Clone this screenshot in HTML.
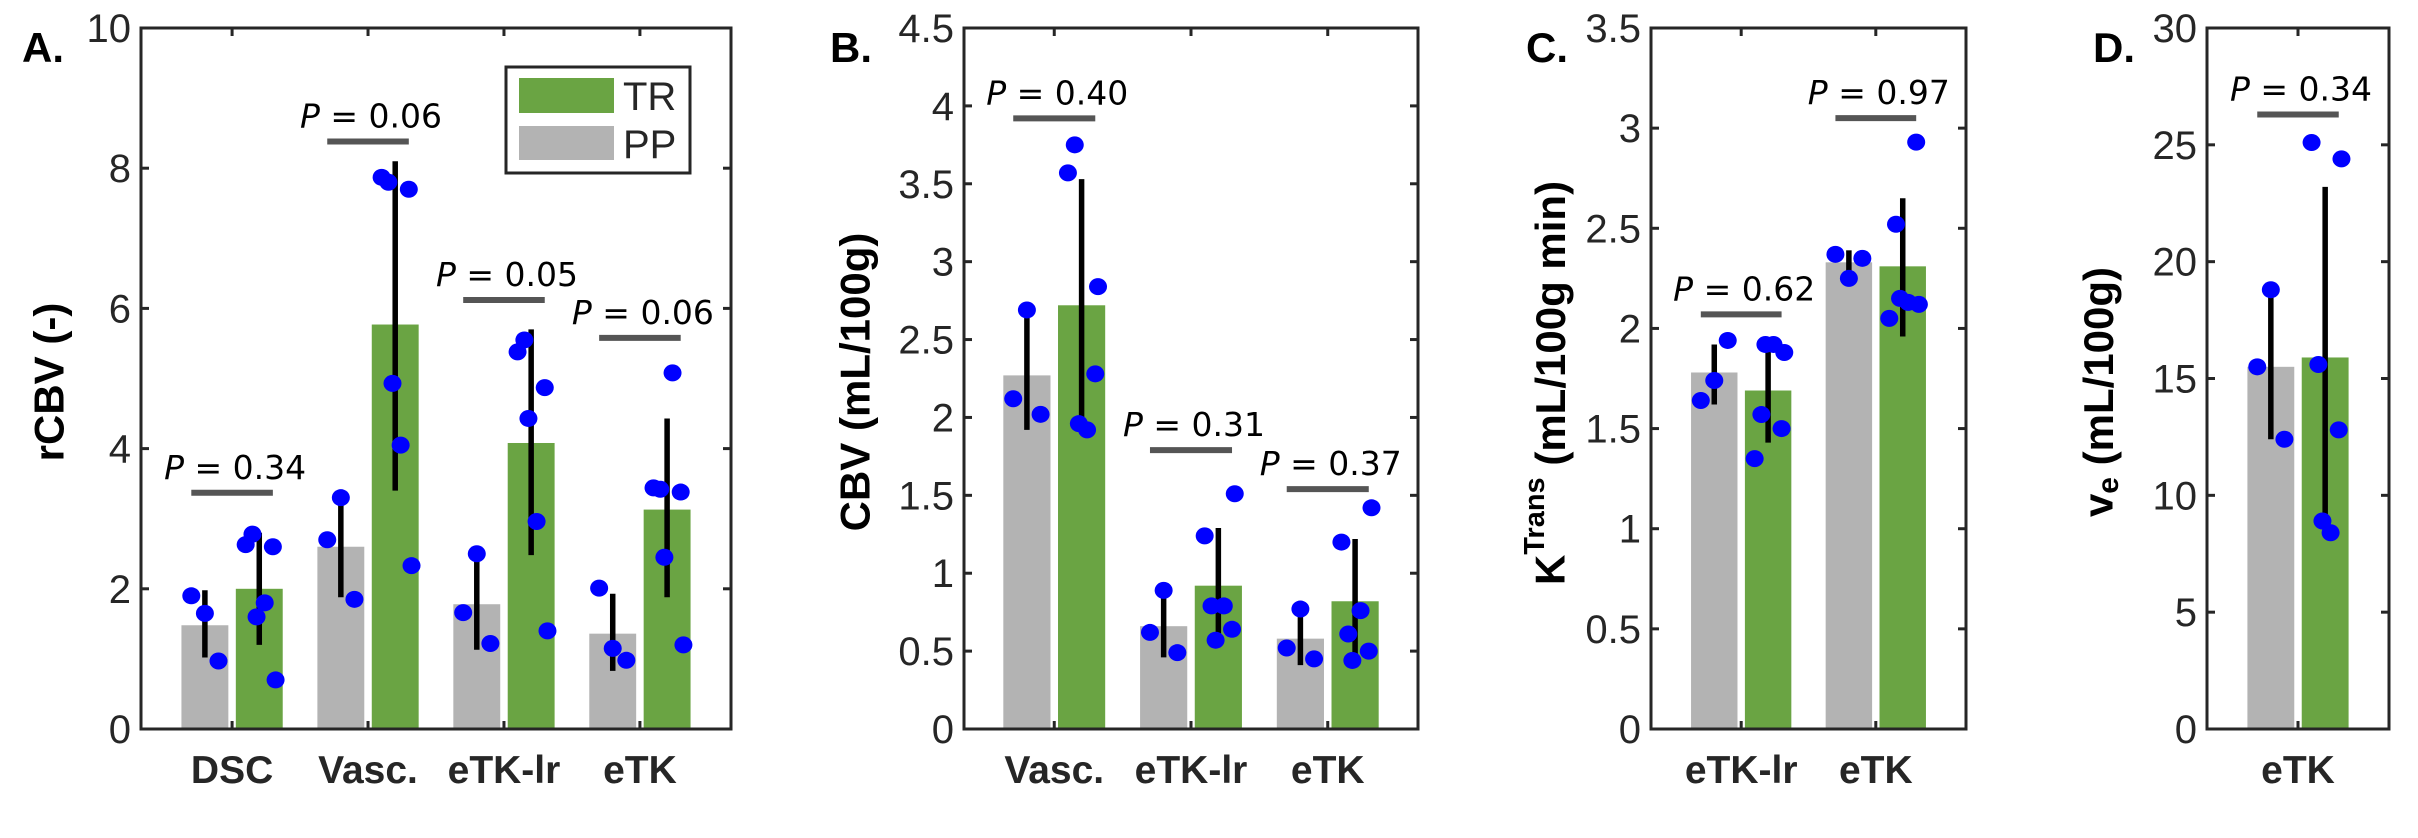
<!DOCTYPE html>
<html><head><meta charset="utf-8"><style>
html,body{margin:0;padding:0;background:#fff;}
svg{display:block;font-family:"Liberation Sans",Arial,sans-serif;}
</style></head><body>
<svg id="fig" width="2418" height="838" viewBox="0 0 2418 838" xmlns="http://www.w3.org/2000/svg"></svg>
<script>
// ---------- data ----------
const catsA = ["DSC","Vasc.","eTK-lr","eTK"];
const ppMeanA = [1.48,2.60,1.78,1.36];
const ppLoA = [1.02,1.88,1.13,0.83];
const ppHiA = [1.98,3.30,2.47,1.93];
const trMeanA = [2.00,5.77,4.08,3.13];
const trLoA = [1.20,3.40,2.48,1.88];
const trHiA = [2.80,8.10,5.70,4.43];
const ppDotsA = [[1.90,1.65,0.97],[2.70,3.30,1.85],[1.66,2.50,1.22],[2.01,1.15,0.98]];
const trDotsA = [[2.63,2.78,2.60,1.60,1.80,0.70],[7.87,7.80,7.70,4.93,4.05,2.33],[5.38,5.55,4.87,4.43,2.96,1.40],[3.44,3.42,3.38,2.45,5.08,1.20]];
const pLineA = [3.37,8.38,6.12,5.58];
const pTextA = ["0.34","0.06","0.05","0.06"];
const yTicksA = [0,2,4,6,8,10];

const catsB = ["Vasc.","eTK-lr","eTK"];
const ppMeanB = [2.27,0.66,0.58];
const ppLoB = [1.92,0.46,0.41];
const ppHiB = [2.64,0.88,0.75];
const trMeanB = [2.72,0.92,0.82];
const trLoB = [1.95,0.57,0.44];
const trHiB = [3.53,1.29,1.22];
const ppDotsB = [[2.12,2.69,2.02],[0.62,0.89,0.49],[0.52,0.77,0.45]];
const trDotsB = [[3.57,3.75,2.28,1.96,1.92,2.84],[1.24,0.79,0.64,0.57,0.79,1.51],[1.20,0.61,0.50,0.44,0.76,1.42]];
const pLineB = [3.92,1.79,1.54];
const pTextB = ["0.40","0.31","0.37"];
const yTicksB = [0,0.5,1,1.5,2,2.5,3,3.5,4,4.5];

const catsC = ["eTK-lr","eTK"];
const ppMeanC = [1.78,2.33];
const ppLoC = [1.62,2.24];
const ppHiC = [1.92,2.39];
const trMeanC = [1.69,2.31];
const trLoC = [1.43,1.96];
const trHiC = [1.91,2.65];
const ppDotsC = [[1.64,1.74,1.94],[2.37,2.25,2.35]];
const trDotsC = [[1.35,1.57,1.50,1.92,1.92,1.88],[2.05,2.52,2.93,2.15,2.13,2.12]];
const pLineC = [2.07,3.05];
const pTextC = ["0.62","0.97"];
const yTicksC = [0,0.5,1,1.5,2,2.5,3,3.5];

const catsD = ["eTK"];
const ppMeanD = [15.5];
const ppLoD = [12.4];
const ppHiD = [18.7];
const trMeanD = [15.9];
const trLoD = [8.5];
const trHiD = [23.2];
const ppDotsD = [[15.5,18.8,12.4]];
const trDotsD = [[25.1,15.6,12.8,8.9,8.4,24.4]];
const pLineD = [26.3];
const pTextD = ["0.34"];
const yTicksD = [0,5,10,15,20,25,30];

// jitter (category units) for scatter dots
const ppJit = [-0.10,0.0,0.10];
const trJit = [-0.10,-0.05,0.10,-0.02,0.04,0.12];

// ---------- drawing ----------
const NS="http://www.w3.org/2000/svg";
const svg=document.getElementById('fig');
function mk(tag,attrs,parent){const e=document.createElementNS(NS,tag);for(const k in attrs)e.setAttribute(k,attrs[k]);(parent||svg).appendChild(e);return e;}
const AX="#262626", GREY="#b3b3b3", GREEN="#6aa443", BLUE="#0000ff";

function panel(cfg){
  const g=mk('g',{});
  
  
  const L=cfg.left,R=cfg.right,T=28,B=729;
  const n=cfg.cats.length;
  const xmin=0.5-cfg.pad, xmax=n+0.5+cfg.pad;
  const xs=v=>L+(v-xmin)/(xmax-xmin)*(R-L);
  const ys=v=>B-(v/cfg.ymax)*(B-T);
  const unit=xs(1)-xs(0);
  const bw=0.345, off=0.2;
  for(let i=0;i<n;i++){
    const c=i+1;
    [[cfg.ppMean,cfg.ppLo,cfg.ppHi,cfg.ppDots,-off,GREY,'pp',ppJit],[cfg.trMean,cfg.trLo,cfg.trHi,cfg.trDots,off,GREEN,'tr',trJit]].forEach(s=>{
      const cx=xs(c+s[4]);
      const bar=mk('rect',{x:cx-bw*unit/2,y:ys(s[0][i]),width:bw*unit,height:ys(0)-ys(s[0][i]),fill:s[5]},g);
      
      
      const eb=mk('line',{x1:cx,x2:cx,y1:ys(s[1][i]),y2:ys(s[2][i]),stroke:'#000','stroke-width':5.5},g);
      
      
      s[3][i].forEach((v,j)=>{
        const d=mk('ellipse',{cx:xs(c+s[4]+s[7][j%s[7].length]),cy:ys(v),rx:9,ry:8.5,fill:BLUE},g);
        
        
      });
    });
    const pl=mk('line',{x1:xs(c-0.3),x2:xs(c+0.3),y1:ys(cfg.pLine[i]),y2:ys(cfg.pLine[i]),stroke:'#555','stroke-width':6},g);
    
    
    const pt=mk('text',{x:xs(c)+3,y:ys(cfg.pLine[i])-14,'text-anchor':'middle','font-size':33,fill:'#000','font-family':'"DejaVu Sans",sans-serif'},g);
    
    
    pt.innerHTML='<tspan font-style="italic">P</tspan> = '+cfg.pText[i];
    const xl=mk('text',{x:xs(c),y:783,'text-anchor':'middle','font-size':39,'font-weight':'bold',fill:AX},g);
    
    
    xl.textContent=cfg.cats[i];
    mk('line',{x1:xs(c),x2:xs(c),y1:T,y2:T+8,stroke:AX,'stroke-width':3},g);
    mk('line',{x1:xs(c),x2:xs(c),y1:B,y2:B-8,stroke:AX,'stroke-width':3},g);
  }
  cfg.yTicks.forEach(v=>{
    const y=ys(v);
    mk('line',{x1:L,x2:L+8,y1:y,y2:y,stroke:AX,'stroke-width':3},g);
    mk('line',{x1:R,x2:R-8,y1:y,y2:y,stroke:AX,'stroke-width':3},g);
    const t=mk('text',{x:L-10,y:y+14,'text-anchor':'end','font-size':40,fill:AX},g);
    
    
    t.textContent=String(v);
  });
  const fr=mk('rect',{x:L,y:T,width:R-L,height:B-T,fill:'none',stroke:AX,'stroke-width':3},g);
  
  
  const pl=mk('text',{x:cfg.labX,y:62,'font-size':42,'font-weight':'bold',fill:'#000'},g);
  
  
  pl.textContent=cfg.id+'.';
  const yt=mk('text',{x:0,y:0,transform:'translate('+cfg.ytX+','+cfg.ytY+') rotate(-90)','text-anchor':'middle','dominant-baseline':'central','font-size':42,'font-weight':'bold',fill:'#000'},g);
  
  
  yt.innerHTML=cfg.ytitle;
}

panel({id:'A',left:141,right:731,pad:0.17,ymax:10,cats:catsA,ppMean:ppMeanA,ppLo:ppLoA,ppHi:ppHiA,trMean:trMeanA,trLo:trLoA,trHi:trHiA,ppDots:ppDotsA,trDots:trDotsA,pLine:pLineA,pText:pTextA,yTicks:yTicksA,labX:22,ytX:49,ytY:382,ytitle:'rCBV (-)'});
panel({id:'B',left:964,right:1418,pad:0.16,ymax:4.5,cats:catsB,ppMean:ppMeanB,ppLo:ppLoB,ppHi:ppHiB,trMean:trMeanB,trLo:trLoB,trHi:trHiB,ppDots:ppDotsB,trDots:trDotsB,pLine:pLineB,pText:pTextB,yTicks:yTicksB,labX:830,ytX:855,ytY:382,ytitle:'CBV (mL/100g)'});
panel({id:'C',left:1651,right:1966,pad:0.17,ymax:3.5,cats:catsC,ppMean:ppMeanC,ppLo:ppLoC,ppHi:ppHiC,trMean:trMeanC,trLo:trLoC,trHi:trHiC,ppDots:ppDotsC,trDots:trDotsC,pLine:pLineC,pText:pTextC,yTicks:yTicksC,labX:1526,ytX:1550,ytY:383,ytitle:'K<tspan font-size="29" dy="-15">Trans</tspan><tspan dy="15"> (mL/100g min)</tspan>'});
panel({id:'D',left:2207,right:2389,pad:0.17,ymax:30,cats:catsD,ppMean:ppMeanD,ppLo:ppLoD,ppHi:ppHiD,trMean:trMeanD,trLo:trLoD,trHi:trHiD,ppDots:ppDotsD,trDots:trDotsD,pLine:pLineD,pText:pTextD,yTicks:yTicksD,labX:2093,ytX:2098,ytY:392,ytitle:'v<tspan font-size="30" dy="10">e</tspan><tspan dy="-10"> (mL/100g)</tspan>'});

const lg=mk('g',{});


mk('rect',{x:506,y:67,width:184,height:106,fill:'#fff',stroke:AX,'stroke-width':3},lg);
const e1=mk('rect',{x:519,y:78,width:95,height:35,fill:GREEN},lg);


const e2=mk('rect',{x:519,y:126,width:95,height:34,fill:GREY},lg);


const t1=mk('text',{x:623,y:110,'font-size':40,fill:AX},lg);


t1.textContent='TR';
const t2=mk('text',{x:623,y:158,'font-size':40,fill:AX},lg);


t2.textContent='PP';
</script>
</body></html>
